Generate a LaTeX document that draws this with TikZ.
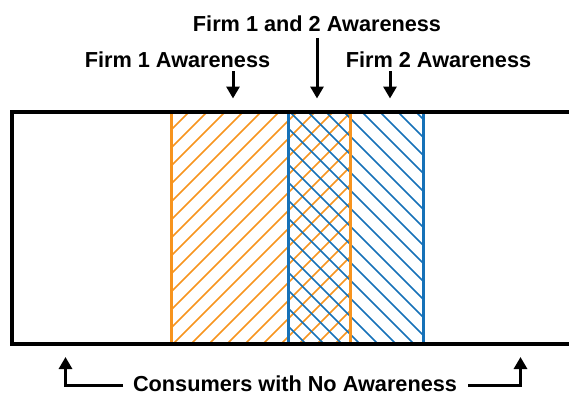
\documentclass[tikz,border=0pt]{standalone}
\usepackage{fontspec}
\setmainfont{Liberation Sans}
\usetikzlibrary{arrows.meta}
\definecolor{forange}{RGB}{247,148,30}
\definecolor{fblue}{RGB}{22,113,184}
\begin{document}
\begin{tikzpicture}[x=1pt,y=-1pt,
  arr/.style={line width=3pt,-{Triangle[width=13pt,length=12pt]}},
  lbl/.style={font=\fontsize{21.7}{26}\selectfont\bfseries, inner sep=0pt, anchor=base},
  hatchO/.style={forange,line width=1.5pt},
  hatchB/.style={fblue,line width=1.5pt},
  edgeO/.style={forange,line width=3pt},
  edgeB/.style={fblue,line width=3pt},
  frame/.style={line width=3.2pt}]
\useasboundingbox (0,0) rectangle (569,396);
% Firm 1 hatch
\begin{scope}
  \clip (171,112) rectangle (350,344);
  \foreach \c in {0,18,...,432} \draw[hatchO] (171-232+\c,344) -- (171+\c,112);
\end{scope}
% Firm 2 hatch
\begin{scope}
  \clip (288,112) rectangle (423,344);
  \foreach \c in {0,18,...,396} \draw[hatchB] (288-232+\c,112) -- (288+\c,344);
\end{scope}
% region edges
\draw[edgeO] (171,112) -- (171,344);
\draw[edgeB] (423,112) -- (423,344);
\draw[edgeB] (288,112) -- (288,344);
\draw[edgeO] (350,112) -- (350,344);
% frame
\draw[frame] (575,112) -- (12,112) -- (12,344) -- (575,344);
% labels
\node[lbl] (t12) at (317,32) {Firm 1 and 2 Awareness};
\node[lbl] (t1) at (177.5,67) {Firm 1 Awareness};
\node[lbl] (t2) at (438.5,67) {Firm 2 Awareness};
\node[lbl] (cons) at (295,391) {Consumers with No Awareness};
% top arrows
\coordinate (a1s) at (233,71);
\coordinate (a1e) at (233,98.5);
\coordinate (a12s) at (317,38);
\coordinate (a12e) at (317,98.5);
\coordinate (a2s) at (390,71);
\coordinate (a2e) at (390,98.5);
\draw[arr] (a1s) -- (a1e);
\draw[arr] (a12s) -- (a12e);
\draw[arr] (a2s) -- (a2e);
% bottom arrows
\coordinate (bl1) at (123,385.5);
\coordinate (bl2) at (65.5,357);
\coordinate (br1) at (468,385.5);
\coordinate (br2) at (520.5,357);
\draw[arr] (bl1) -| (bl2);
\draw[arr] (br1) -| (br2);
\end{tikzpicture}
\end{document}
